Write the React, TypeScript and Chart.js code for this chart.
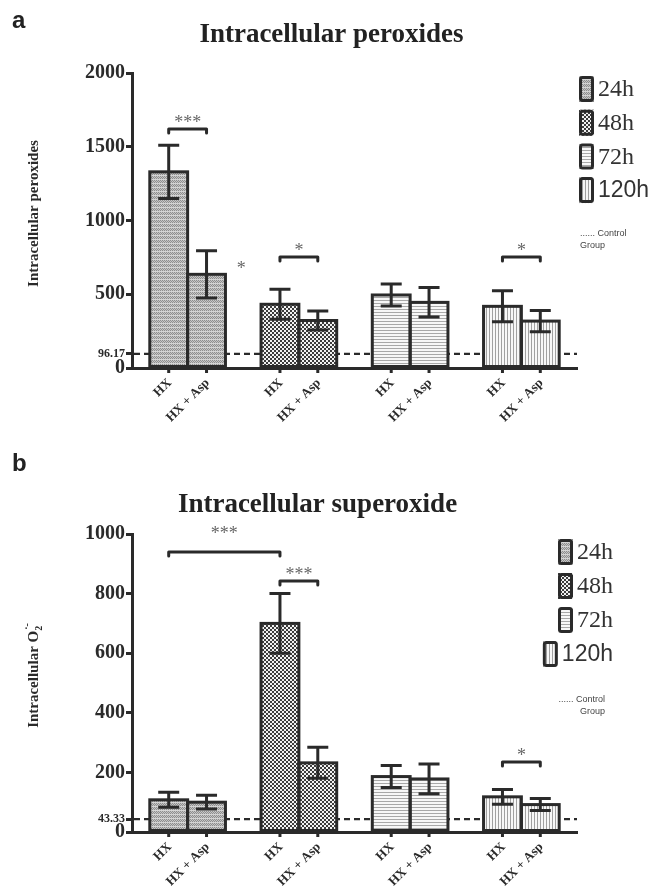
import React, { useEffect, useRef } from 'react';
import { Chart, registerables } from 'chart.js';

Chart.register(...registerables);

// ---------- data ----------
const timeGroups = ['24h', '48h', '72h', '120h'];
const treatments = ['HX', 'HX + Asp'];

const peroxHX = [1330, 432, 495, 418];
const peroxHXErr = [180, 102, 75, 105];
const peroxAsp = [635, 322, 445, 318];
const peroxAspErr = [160, 65, 100, 72];
const peroxControl = 96.17;
const peroxTicks = [0, 500, 1000, 1500, 2000];

const superHX = [108, 700, 186, 118];
const superHXErr = [25, 100, 37, 25];
const superAsp = [100, 232, 178, 92];
const superAspErr = [23, 52, 50, 20];
const superControl = 43.33;
const superTicks = [0, 200, 400, 600, 800, 1000];

// significance brackets: a/b = [datasetIndex, groupIndex]
const peroxSig = [
  { a: [0, 0], b: [1, 0], value: 1620, label: '***' },
  { a: [0, 1], b: [1, 1], value: 752, label: '*' },
  { a: [0, 3], b: [1, 3], value: 752, label: '*' },
];
const peroxLoneMarks = [{ at: [1, 0], value: 640, label: '*' }];

const superSig = [
  { a: [0, 0], b: [0, 1], value: 940, label: '***', labelValue: 982 },
  { a: [0, 1], b: [1, 1], value: 842, label: '***' },
  { a: [0, 3], b: [1, 3], value: 235, label: '*' },
];
const superLoneMarks: any[] = [];

// ---------- style ----------
const SERIF = '"Liberation Serif", "Times New Roman", serif';
const SANS = '"Liberation Sans", Arial, sans-serif';
const INK = '#2a2a2a';
const W = 652;
const H = 447;

function makePatterns(ctx: CanvasRenderingContext2D) {
  const mk = (w: number, h: number, draw: (g: CanvasRenderingContext2D) => void) => {
    const c = document.createElement('canvas');
    c.width = w;
    c.height = h;
    const g = c.getContext('2d')!;
    draw(g);
    return ctx.createPattern(c, 'repeat')!;
  };
  const p24 = mk(4, 4, (g) => {
    for (let y = 0; y < 4; y++)
      for (let x = 0; x < 4; x++) {
        g.fillStyle = y === 3 ? '#d4d4d4' : (x + y) % 2 === 0 ? '#8e8e8e' : '#c6c6c6';
        g.fillRect(x, y, 1, 1);
      }
  });
  const p48 = mk(4, 4, (g) => {
    g.fillStyle = '#f2f2f2';
    g.fillRect(0, 0, 4, 4);
    g.fillStyle = '#3c3c3c';
    g.fillRect(0, 0, 2, 2);
    g.fillRect(2, 2, 2, 2);
  });
  const p72 = mk(1, 3, (g) => {
    g.fillStyle = '#f7f7f7';
    g.fillRect(0, 0, 1, 3);
    g.fillStyle = '#a8a8a8';
    g.fillRect(0, 0, 1, 1);
  });
  const p120 = mk(3, 1, (g) => {
    g.fillStyle = '#f7f7f7';
    g.fillRect(0, 0, 3, 1);
    g.fillStyle = '#a0a0a0';
    g.fillRect(0, 0, 1, 1);
  });
  return [p24, p48, p72, p120];
}

type Spec = {
  letter: string;
  title: string;
  titleDx: number;
  letterBaseline: number;
  titleBaseline: number;
  yTitle: { main: string; sub?: string; sup?: string };
  hx: number[];
  hxErr: number[];
  asp: number[];
  aspErr: number[];
  control: number;
  ticks: number[];
  sig: any[];
  lone: any[];
  areaTop: number;
  areaBottom: number;
  legend: { align: 'left' | 'right'; dx: number; dy: number; step: number; noteDy: number };
};

function Panel({ spec }: { spec: Spec }) {
  const ref = useRef<HTMLCanvasElement | null>(null);
  useEffect(() => {
    const canvas = ref.current!;
    const ctx0 = canvas.getContext('2d')!;
    const patterns = makePatterns(ctx0);
    const yMax = spec.ticks[spec.ticks.length - 1];

    const plugin = {
      id: 'custom',
      beforeDatasetsDraw(chart: any) {
        const { ctx, chartArea } = chart;
        const y = chart.scales.y.getPixelForValue(spec.control);
        ctx.save();
        ctx.strokeStyle = INK;
        ctx.lineWidth = 2.2;
        ctx.setLineDash([6, 4]);
        ctx.beginPath();
        ctx.moveTo(chartArea.left + 2, y);
        ctx.lineTo(chartArea.right, y);
        ctx.stroke();
        ctx.restore();
      },
      afterDatasetsDraw(chart: any) {
        const { ctx } = chart;
        const ys = chart.scales.y;
        const el = (p: number[]) => chart.getDatasetMeta(p[0]).data[p[1]];
        // bar outlines
        ctx.save();
        ctx.strokeStyle = INK;
        ctx.lineWidth = 3;
        ctx.lineJoin = 'miter';
        chart.data.datasets.forEach((ds: any, i: number) => {
          chart.getDatasetMeta(i).data.forEach((b: any) => {
            const w = b.width;
            ctx.strokeRect(b.x - w / 2, b.y, w, b.base - b.y);
          });
        });
        // error bars
        chart.data.datasets.forEach((ds: any, i: number) => {
          chart.getDatasetMeta(i).data.forEach((b: any, j: number) => {
            const v = ds.data[j];
            const e = ds.errors[j];
            const yt = ys.getPixelForValue(v + e);
            const yb = ys.getPixelForValue(v - e);
            ctx.beginPath();
            ctx.moveTo(b.x, yt);
            ctx.lineTo(b.x, yb);
            ctx.moveTo(b.x - 10.5, yt);
            ctx.lineTo(b.x + 10.5, yt);
            ctx.moveTo(b.x - 10.5, yb);
            ctx.lineTo(b.x + 10.5, yb);
            ctx.stroke();
          });
        });
        // brackets
        spec.sig.forEach((s: any) => {
          const x1 = el(s.a).x;
          const x2 = el(s.b).x;
          const yb = ys.getPixelForValue(s.value);
          ctx.strokeStyle = INK;
          ctx.lineWidth = 3;
          ctx.lineJoin = 'round';
          ctx.lineCap = 'round';
          ctx.beginPath();
          ctx.moveTo(x1, yb + 4);
          ctx.lineTo(x1, yb);
          ctx.lineTo(x2, yb);
          ctx.lineTo(x2, yb + 4);
          ctx.stroke();
          ctx.fillStyle = '#666';
          ctx.font = `18px ${SERIF}`;
          ctx.textAlign = 'center';
          ctx.textBaseline = 'alphabetic';
          const ly = s.labelValue !== undefined ? ys.getPixelForValue(s.labelValue) : yb - 1;
          ctx.fillText(s.label, (x1 + x2) / 2, ly);
        });
        spec.lone.forEach((m: any) => {
          const b = el(m.at);
          ctx.fillStyle = '#666';
          ctx.font = `18px ${SERIF}`;
          ctx.textAlign = 'center';
          ctx.textBaseline = 'alphabetic';
          ctx.fillText(m.label, b.x + b.width * 0.92, ys.getPixelForValue(m.value));
        });
        ctx.restore();
      },
      afterDraw(chart: any) {
        const { ctx, chartArea } = chart;
        ctx.save();
        // x tick marks & rotated labels
        chart.data.datasets.forEach((ds: any, i: number) => {
          chart.getDatasetMeta(i).data.forEach((b: any) => {
            ctx.strokeStyle = INK;
            ctx.lineWidth = 3;
            ctx.beginPath();
            ctx.moveTo(b.x, chartArea.bottom);
            ctx.lineTo(b.x, chartArea.bottom + 5);
            ctx.stroke();
            ctx.save();
            ctx.translate(b.x + 1, chartArea.bottom + 13);
            ctx.rotate(-Math.PI / 4);
            ctx.fillStyle = INK;
            ctx.font = `bold 13px ${SERIF}`;
            ctx.textAlign = 'right';
            ctx.textBaseline = 'middle';
            ctx.fillText(ds.label, 0, 0);
            ctx.restore();
          });
        });
        // panel letter & title
        ctx.fillStyle = '#222';
        ctx.font = `bold 24px ${SANS}`;
        ctx.textAlign = 'left';
        ctx.textBaseline = 'alphabetic';
        ctx.fillText(spec.letter, 12, spec.letterBaseline);
        ctx.font = `bold 27px ${SERIF}`;
        ctx.textAlign = 'center';
        ctx.fillText(spec.title, (chartArea.left + chartArea.right) / 2 + spec.titleDx, spec.titleBaseline);
        // y title (rotated)
        ctx.save();
        ctx.translate(38, (chartArea.top + chartArea.bottom) / 2 - 7);
        ctx.rotate(-Math.PI / 2);
        ctx.fillStyle = INK;
        const mainFont = `bold 15px ${SERIF}`;
        const smallFont = `bold 10px ${SERIF}`;
        ctx.font = mainFont;
        const mw = ctx.measureText(spec.yTitle.main).width;
        ctx.font = smallFont;
        const sw = spec.yTitle.sub ? ctx.measureText(spec.yTitle.sub).width : 0;
        const pw = spec.yTitle.sup ? ctx.measureText(spec.yTitle.sup).width : 0;
        const total = mw + Math.max(sw, pw);
        let x = -total / 2;
        ctx.textAlign = 'left';
        ctx.textBaseline = 'alphabetic';
        ctx.font = mainFont;
        ctx.fillText(spec.yTitle.main, x, 0);
        x += mw;
        ctx.font = smallFont;
        if (spec.yTitle.sub) ctx.fillText(spec.yTitle.sub, x, 4);
        if (spec.yTitle.sup) ctx.fillText(spec.yTitle.sup, x + 1, -8);
        ctx.restore();
        // legend
        const lg = spec.legend;
        const anchor = chartArea.right + lg.dx;
        timeGroups.forEach((g, i) => {
          const cy = chartArea.top + lg.dy + i * lg.step;
          const isSans = g === '120h';
          ctx.font = isSans ? `23px ${SANS}` : `24px ${SERIF}`;
          const tw = ctx.measureText(g).width;
          let boxL: number;
          let tx: number;
          if (lg.align === 'left') {
            boxL = anchor;
            tx = anchor + 19;
          } else {
            tx = anchor - tw;
            boxL = tx - 19;
          }
          ctx.fillStyle = patterns[i];
          ctx.fillRect(boxL, cy - 13, 15, 26);
          ctx.strokeStyle = INK;
          ctx.lineWidth = 3;
          ctx.beginPath();
          (ctx as any).roundRect ? (ctx as any).roundRect(boxL + 1.5, cy - 11.5, 12, 23, 2) : ctx.rect(boxL + 1.5, cy - 11.5, 12, 23);
          ctx.stroke();
          ctx.fillStyle = '#333';
          ctx.textAlign = 'left';
          ctx.textBaseline = 'middle';
          ctx.fillText(g, tx, cy + 1);
        });
        // control note
        ctx.font = `9px ${SANS}`;
        ctx.fillStyle = '#444';
        ctx.textBaseline = 'middle';
        const ny = chartArea.top + lg.noteDy;
        if (lg.align === 'left') {
          ctx.textAlign = 'left';
          ctx.fillText('...... Control', anchor + 1, ny);
          ctx.fillText('Group', anchor + 1, ny + 12);
        } else {
          ctx.textAlign = 'right';
          ctx.fillText('...... Control', anchor - 8, ny);
          ctx.fillText('Group', anchor - 8, ny + 12);
        }
        ctx.restore();
      },
    };

    const chart = new Chart(canvas, {
      type: 'bar',
      data: {
        labels: timeGroups,
        datasets: [
          {
            label: treatments[0],
            data: spec.hx,
            errors: spec.hxErr,
            backgroundColor: patterns,
            borderWidth: 0,
            categoryPercentage: 0.68,
            barPercentage: 1,
          } as any,
          {
            label: treatments[1],
            data: spec.asp,
            errors: spec.aspErr,
            backgroundColor: patterns,
            borderWidth: 0,
            categoryPercentage: 0.68,
            barPercentage: 1,
          } as any,
        ],
      },
      options: {
        responsive: false,
        animation: false,
        devicePixelRatio: 1,
        layout: { padding: { top: spec.areaTop, right: 75, bottom: 0, left: 0 } },
        plugins: { legend: { display: false }, tooltip: { enabled: false }, title: { display: false } },
        scales: {
          x: {
            type: 'category',
            offset: true,
            ticks: { display: false },
            grid: { display: false },
            border: { display: true, width: 3, color: INK },
            afterFit: (s: any) => {
              s.height = H - spec.areaBottom;
            },
          },
          y: {
            min: 0,
            max: yMax,
            afterBuildTicks: (s: any) => {
              s.ticks = [...spec.ticks, spec.control].sort((a, b) => a - b).map((v) => ({ value: v }));
            },
            afterFit: (s: any) => {
              s.width = 132;
            },
            ticks: {
              autoSkip: false,
              padding: 1,
              color: INK,
              font: (c: any) =>
                c.tick && c.tick.value === spec.control
                  ? { family: SERIF, size: 12, weight: 'bold' }
                  : { family: SERIF, size: 20, weight: 'bold' },
              callback: (v: any) => String(v),
            },
            grid: { display: true, drawOnChartArea: false, drawTicks: true, tickLength: 6, lineWidth: 3, color: INK },
            border: { display: true, width: 3, color: INK },
          },
        },
      } as any,
      plugins: [plugin],
    });
    return () => chart.destroy();
  }, [spec]);
  return <canvas ref={ref} width={W} height={H} style={{ display: 'block', width: W, height: H }} />;
}

const topSpec: Spec = {
  letter: 'a',
  title: 'Intracellular peroxides',
  titleDx: -23,
  letterBaseline: 28,
  titleBaseline: 42,
  yTitle: { main: 'Intracellular peroxides' },
  hx: peroxHX,
  hxErr: peroxHXErr,
  asp: peroxAsp,
  aspErr: peroxAspErr,
  control: peroxControl,
  ticks: peroxTicks,
  sig: peroxSig,
  lone: peroxLoneMarks,
  areaTop: 73,
  areaBottom: 368,
  legend: { align: 'left', dx: 2, dy: 16, step: 33.7, noteDy: 161 },
};

const bottomSpec: Spec = {
  letter: 'b',
  title: 'Intracellular superoxide',
  titleDx: -37,
  letterBaseline: 24,
  titleBaseline: 65,
  yTitle: { main: 'Intracellular O', sub: '2', sup: '·-' },
  hx: superHX,
  hxErr: superHXErr,
  asp: superAsp,
  aspErr: superAspErr,
  control: superControl,
  ticks: superTicks,
  sig: superSig,
  lone: superLoneMarks,
  areaTop: 87,
  areaBottom: 385,
  legend: { align: 'right', dx: 36, dy: 18, step: 34, noteDy: 166 },
};

export default function App() {
  return (
    <div style={{ position: 'absolute', left: 0, top: 0, width: W, height: 894, background: '#fff' }}>
      <Panel spec={topSpec} />
      <Panel spec={bottomSpec} />
    </div>
  );
}
